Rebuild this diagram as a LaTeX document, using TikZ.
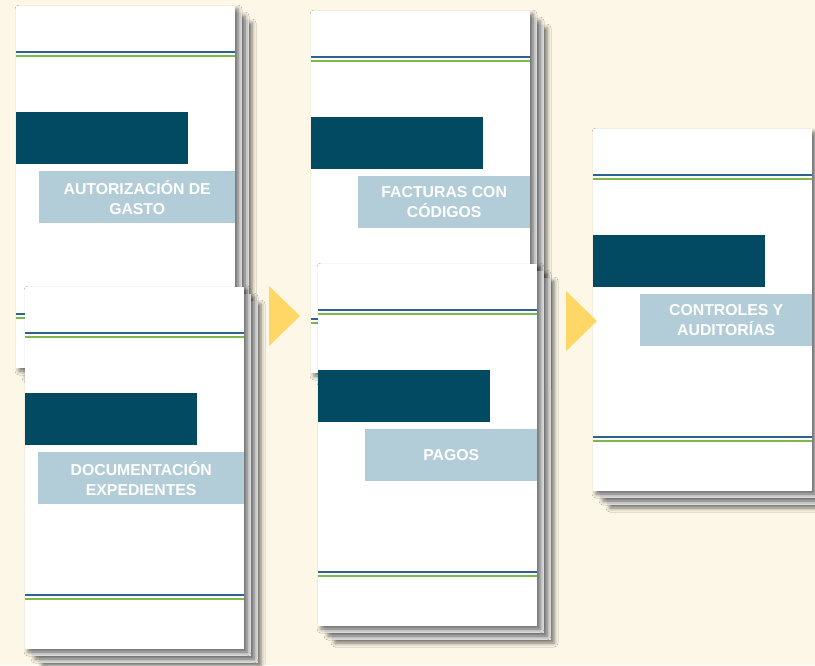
\documentclass[tikz,border=0pt]{standalone}
\usepackage{fontspec}
\setmainfont{Liberation Sans}
\usetikzlibrary{shadows.blur}
\definecolor{bgc}{HTML}{FDF7E7}
\definecolor{darkc}{HTML}{014A62}
\definecolor{lightc}{HTML}{B3CDD8}
\definecolor{bluec}{HTML}{2E6290}
\definecolor{greenc}{HTML}{7CB84A}
\definecolor{arrowc}{HTML}{FFD766}
\tikzset{
  sheet/.style={fill=white, blur shadow={shadow xshift=3pt, shadow yshift=-3pt, shadow blur radius=4pt, shadow opacity=55}},
  backsheet/.style={fill=gray!22, blur shadow={shadow xshift=3pt, shadow yshift=-3pt, shadow blur radius=4pt, shadow opacity=55}},
  blueline/.style={draw=bluec, line width=1.8pt},
  greenline/.style={draw=greenc, line width=1.8pt},
  lightbox/.style={fill=lightc, text=white, inner sep=0pt, anchor=north west,
    minimum height=52pt, align=center, font=\fontsize{15.8}{20}\selectfont\bfseries},
  darkbox/.style={fill=darkc},
  tri/.style={fill=arrowc}
}
% #1 name, #2 x, #3 y, #4 light box x offset, #5 light box width, #6 text
\newcommand\mypage[6]{%
  \path[backsheet] (#2+14,#3+14) rectangle ++(219,362);
  \path[backsheet] (#2+7,#3+7) rectangle ++(219,362);
  \path[sheet] (#2,#3) rectangle ++(219,362);
  \draw[blueline] (#2,#3+46) -- ++(219,0);
  \draw[greenline] (#2,#3+50) -- ++(219,0);
  \draw[blueline] (#2,#3+308) -- ++(219,0);
  \draw[greenline] (#2,#3+312) -- ++(219,0);
  \fill[darkbox] (#2,#3+106) rectangle ++(172,52);
  \node[lightbox, minimum width=#5pt] (#1) at (#2+#4,#3+165) {#6};
}
\begin{document}
\begin{tikzpicture}[x=1pt,y=-1pt]
\fill[bgc] (0,0) rectangle (815,665);
\useasboundingbox (0,0) rectangle (815,665);
\mypage{autorizacion}{16}{6}{23}{196}{AUTORIZACIÓN DE\\GASTO}
\mypage{documentacion}{25}{287}{13}{206}{DOCUMENTACIÓN\\EXPEDIENTES}
\mypage{facturas}{311}{11}{47}{172}{FACTURAS CON\\CÓDIGOS}
\mypage{pagos}{318}{264}{47}{172}{PAGOS}
\mypage{controles}{593}{129}{47}{172}{CONTROLES Y\\AUDITORÍAS}
\fill[tri] (269,286) -- (300,316) -- (269,346) -- cycle;
\fill[tri] (566,291) -- (597,321) -- (566,351) -- cycle;
\end{tikzpicture}
\end{document}
